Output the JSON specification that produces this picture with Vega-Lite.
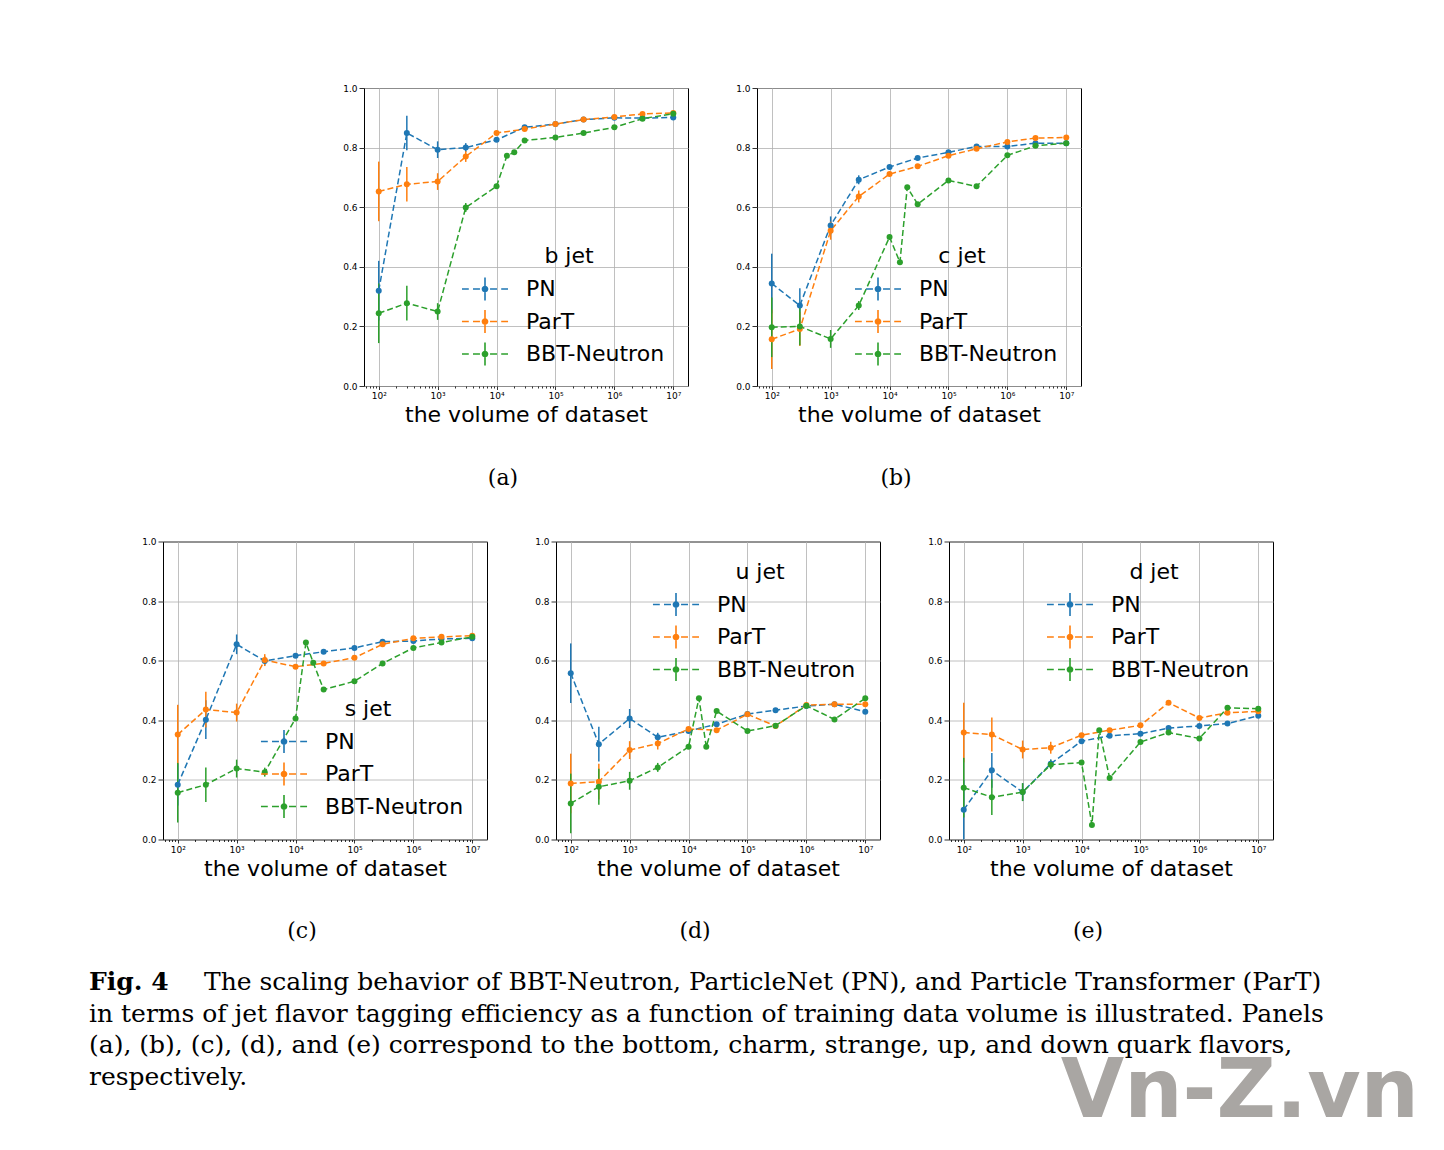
{
"$schema":"https://vega.github.io/schema/vega-lite/v6.json",
"padding":{"left":89,"top":83,"right":0,"bottom":0},
"background":"white",
"datasets":{"d":[
{"p":"a","m":"PN","x":100,"y":0.32,"e":0.1},{"p":"a","m":"PN","x":300,"y":0.849,"e":0.058},{"p":"a","m":"PN","x":1000,"y":0.793,"e":0.028},{"p":"a","m":"PN","x":3000,"y":0.8,"e":0.015},{"p":"a","m":"PN","x":10000,"y":0.826,"e":0.005},{"p":"a","m":"PN","x":30000,"y":0.868,"e":0},{"p":"a","m":"PN","x":100000,"y":0.879,"e":0},{"p":"a","m":"PN","x":300000,"y":0.894,"e":0},{"p":"a","m":"PN","x":1000000,"y":0.9,"e":0},{"p":"a","m":"PN","x":3000000,"y":0.899,"e":0},{"p":"a","m":"PN","x":10000000,"y":0.901,"e":0},
{"p":"a","m":"ParT","x":100,"y":0.653,"e":0.1},{"p":"a","m":"ParT","x":300,"y":0.677,"e":0.058},{"p":"a","m":"ParT","x":1000,"y":0.686,"e":0.028},{"p":"a","m":"ParT","x":3000,"y":0.77,"e":0.018},{"p":"a","m":"ParT","x":10000,"y":0.849,"e":0.005},{"p":"a","m":"ParT","x":30000,"y":0.862,"e":0},{"p":"a","m":"ParT","x":100000,"y":0.879,"e":0},{"p":"a","m":"ParT","x":300000,"y":0.894,"e":0},{"p":"a","m":"ParT","x":1000000,"y":0.903,"e":0},{"p":"a","m":"ParT","x":3000000,"y":0.913,"e":0},{"p":"a","m":"ParT","x":10000000,"y":0.916,"e":0},
{"p":"a","m":"BBT-Neutron","x":100,"y":0.244,"e":0.1},{"p":"a","m":"BBT-Neutron","x":300,"y":0.278,"e":0.058},{"p":"a","m":"BBT-Neutron","x":1000,"y":0.25,"e":0.028},{"p":"a","m":"BBT-Neutron","x":3000,"y":0.599,"e":0.015},{"p":"a","m":"BBT-Neutron","x":10000,"y":0.67,"e":0.008},{"p":"a","m":"BBT-Neutron","x":15000,"y":0.773,"e":0},{"p":"a","m":"BBT-Neutron","x":20000,"y":0.784,"e":0},{"p":"a","m":"BBT-Neutron","x":30000,"y":0.824,"e":0},{"p":"a","m":"BBT-Neutron","x":100000,"y":0.834,"e":0},{"p":"a","m":"BBT-Neutron","x":300000,"y":0.849,"e":0},{"p":"a","m":"BBT-Neutron","x":1000000,"y":0.868,"e":0},{"p":"a","m":"BBT-Neutron","x":3000000,"y":0.897,"e":0},{"p":"a","m":"BBT-Neutron","x":10000000,"y":0.914,"e":0},
{"p":"b","m":"PN","x":100,"y":0.344,"e":0.1},{"p":"b","m":"PN","x":300,"y":0.27,"e":0.058},{"p":"b","m":"PN","x":1000,"y":0.539,"e":0.03},{"p":"b","m":"PN","x":3000,"y":0.692,"e":0.015},{"p":"b","m":"PN","x":10000,"y":0.735,"e":0.005},{"p":"b","m":"PN","x":30000,"y":0.765,"e":0},{"p":"b","m":"PN","x":100000,"y":0.784,"e":0},{"p":"b","m":"PN","x":300000,"y":0.804,"e":0},{"p":"b","m":"PN","x":1000000,"y":0.804,"e":0},{"p":"b","m":"PN","x":3000000,"y":0.815,"e":0},{"p":"b","m":"PN","x":10000000,"y":0.815,"e":0},
{"p":"b","m":"ParT","x":100,"y":0.157,"e":0.1},{"p":"b","m":"ParT","x":300,"y":0.191,"e":0.057},{"p":"b","m":"ParT","x":1000,"y":0.521,"e":0.03},{"p":"b","m":"ParT","x":3000,"y":0.636,"e":0.02},{"p":"b","m":"ParT","x":10000,"y":0.711,"e":0.005},{"p":"b","m":"ParT","x":30000,"y":0.737,"e":0},{"p":"b","m":"ParT","x":100000,"y":0.773,"e":0},{"p":"b","m":"ParT","x":300000,"y":0.796,"e":0},{"p":"b","m":"ParT","x":1000000,"y":0.819,"e":0},{"p":"b","m":"ParT","x":3000000,"y":0.832,"e":0},{"p":"b","m":"ParT","x":10000000,"y":0.834,"e":0},
{"p":"b","m":"BBT-Neutron","x":100,"y":0.197,"e":0.1},{"p":"b","m":"BBT-Neutron","x":300,"y":0.2,"e":0.063},{"p":"b","m":"BBT-Neutron","x":1000,"y":0.158,"e":0.03},{"p":"b","m":"BBT-Neutron","x":3000,"y":0.27,"e":0.015},{"p":"b","m":"BBT-Neutron","x":10000,"y":0.5,"e":0.005},{"p":"b","m":"BBT-Neutron","x":15000,"y":0.415,"e":0},{"p":"b","m":"BBT-Neutron","x":20000,"y":0.667,"e":0},{"p":"b","m":"BBT-Neutron","x":30000,"y":0.61,"e":0},{"p":"b","m":"BBT-Neutron","x":100000,"y":0.69,"e":0},{"p":"b","m":"BBT-Neutron","x":300000,"y":0.67,"e":0},{"p":"b","m":"BBT-Neutron","x":1000000,"y":0.774,"e":0},{"p":"b","m":"BBT-Neutron","x":3000000,"y":0.806,"e":0},{"p":"b","m":"BBT-Neutron","x":10000000,"y":0.815,"e":0},
{"p":"c","m":"PN","x":100,"y":0.184,"e":0.07},{"p":"c","m":"PN","x":300,"y":0.402,"e":0.065},{"p":"c","m":"PN","x":1000,"y":0.655,"e":0.033},{"p":"c","m":"PN","x":3000,"y":0.599,"e":0.015},{"p":"c","m":"PN","x":10000,"y":0.617,"e":0.005},{"p":"c","m":"PN","x":30000,"y":0.63,"e":0},{"p":"c","m":"PN","x":100000,"y":0.643,"e":0},{"p":"c","m":"PN","x":300000,"y":0.664,"e":0},{"p":"c","m":"PN","x":1000000,"y":0.666,"e":0},{"p":"c","m":"PN","x":3000000,"y":0.673,"e":0},{"p":"c","m":"PN","x":10000000,"y":0.675,"e":0},
{"p":"c","m":"ParT","x":100,"y":0.352,"e":0.1},{"p":"c","m":"ParT","x":300,"y":0.436,"e":0.06},{"p":"c","m":"ParT","x":1000,"y":0.426,"e":0.03},{"p":"c","m":"ParT","x":3000,"y":0.602,"e":0.02},{"p":"c","m":"ParT","x":10000,"y":0.58,"e":0.005},{"p":"c","m":"ParT","x":30000,"y":0.591,"e":0},{"p":"c","m":"ParT","x":100000,"y":0.61,"e":0},{"p":"c","m":"ParT","x":300000,"y":0.655,"e":0},{"p":"c","m":"ParT","x":1000000,"y":0.675,"e":0},{"p":"c","m":"ParT","x":3000000,"y":0.68,"e":0},{"p":"c","m":"ParT","x":10000000,"y":0.684,"e":0},
{"p":"c","m":"BBT-Neutron","x":100,"y":0.157,"e":0.1},{"p":"c","m":"BBT-Neutron","x":300,"y":0.184,"e":0.058},{"p":"c","m":"BBT-Neutron","x":1000,"y":0.238,"e":0.03},{"p":"c","m":"BBT-Neutron","x":3000,"y":0.226,"e":0.015},{"p":"c","m":"BBT-Neutron","x":10000,"y":0.406,"e":0.005},{"p":"c","m":"BBT-Neutron","x":15000,"y":0.661,"e":0},{"p":"c","m":"BBT-Neutron","x":20000,"y":0.593,"e":0},{"p":"c","m":"BBT-Neutron","x":30000,"y":0.503,"e":0},{"p":"c","m":"BBT-Neutron","x":100000,"y":0.531,"e":0},{"p":"c","m":"BBT-Neutron","x":300000,"y":0.591,"e":0},{"p":"c","m":"BBT-Neutron","x":1000000,"y":0.643,"e":0},{"p":"c","m":"BBT-Neutron","x":3000000,"y":0.661,"e":0},{"p":"c","m":"BBT-Neutron","x":10000000,"y":0.68,"e":0},
{"p":"d","m":"PN","x":100,"y":0.558,"e":0.1},{"p":"d","m":"PN","x":300,"y":0.32,"e":0.058},{"p":"d","m":"PN","x":1000,"y":0.406,"e":0.032},{"p":"d","m":"PN","x":3000,"y":0.343,"e":0.015},{"p":"d","m":"PN","x":10000,"y":0.364,"e":0.005},{"p":"d","m":"PN","x":30000,"y":0.387,"e":0},{"p":"d","m":"PN","x":100000,"y":0.421,"e":0},{"p":"d","m":"PN","x":300000,"y":0.434,"e":0},{"p":"d","m":"PN","x":1000000,"y":0.448,"e":0},{"p":"d","m":"PN","x":3000000,"y":0.454,"e":0},{"p":"d","m":"PN","x":10000000,"y":0.429,"e":0},
{"p":"d","m":"ParT","x":100,"y":0.188,"e":0.1},{"p":"d","m":"ParT","x":300,"y":0.194,"e":0.06},{"p":"d","m":"ParT","x":1000,"y":0.3,"e":0.03},{"p":"d","m":"ParT","x":3000,"y":0.322,"e":0.02},{"p":"d","m":"ParT","x":10000,"y":0.371,"e":0.005},{"p":"d","m":"ParT","x":30000,"y":0.367,"e":0},{"p":"d","m":"ParT","x":100000,"y":0.42,"e":0},{"p":"d","m":"ParT","x":300000,"y":0.381,"e":0},{"p":"d","m":"ParT","x":1000000,"y":0.451,"e":0},{"p":"d","m":"ParT","x":3000000,"y":0.454,"e":0},{"p":"d","m":"ParT","x":10000000,"y":0.454,"e":0},
{"p":"d","m":"BBT-Neutron","x":100,"y":0.121,"e":0.1},{"p":"d","m":"BBT-Neutron","x":300,"y":0.177,"e":0.06},{"p":"d","m":"BBT-Neutron","x":1000,"y":0.197,"e":0.03},{"p":"d","m":"BBT-Neutron","x":3000,"y":0.242,"e":0.015},{"p":"d","m":"BBT-Neutron","x":10000,"y":0.311,"e":0.005},{"p":"d","m":"BBT-Neutron","x":15000,"y":0.474,"e":0},{"p":"d","m":"BBT-Neutron","x":20000,"y":0.311,"e":0},{"p":"d","m":"BBT-Neutron","x":30000,"y":0.431,"e":0},{"p":"d","m":"BBT-Neutron","x":100000,"y":0.364,"e":0},{"p":"d","m":"BBT-Neutron","x":300000,"y":0.382,"e":0},{"p":"d","m":"BBT-Neutron","x":1000000,"y":0.449,"e":0},{"p":"d","m":"BBT-Neutron","x":3000000,"y":0.403,"e":0},{"p":"d","m":"BBT-Neutron","x":10000000,"y":0.474,"e":0},
{"p":"e","m":"PN","x":100,"y":0.1,"e":0.1},{"p":"e","m":"PN","x":300,"y":0.232,"e":0.058},{"p":"e","m":"PN","x":1000,"y":0.159,"e":0.03},{"p":"e","m":"PN","x":3000,"y":0.254,"e":0.015},{"p":"e","m":"PN","x":10000,"y":0.33,"e":0.005},{"p":"e","m":"PN","x":30000,"y":0.348,"e":0},{"p":"e","m":"PN","x":100000,"y":0.355,"e":0},{"p":"e","m":"PN","x":300000,"y":0.374,"e":0},{"p":"e","m":"PN","x":1000000,"y":0.381,"e":0},{"p":"e","m":"PN","x":3000000,"y":0.389,"e":0},{"p":"e","m":"PN","x":10000000,"y":0.415,"e":0},
{"p":"e","m":"ParT","x":100,"y":0.359,"e":0.1},{"p":"e","m":"ParT","x":300,"y":0.352,"e":0.057},{"p":"e","m":"ParT","x":1000,"y":0.302,"e":0.03},{"p":"e","m":"ParT","x":3000,"y":0.308,"e":0.02},{"p":"e","m":"ParT","x":10000,"y":0.35,"e":0.005},{"p":"e","m":"ParT","x":30000,"y":0.367,"e":0},{"p":"e","m":"ParT","x":100000,"y":0.383,"e":0},{"p":"e","m":"ParT","x":300000,"y":0.459,"e":0},{"p":"e","m":"ParT","x":1000000,"y":0.408,"e":0},{"p":"e","m":"ParT","x":3000000,"y":0.425,"e":0},{"p":"e","m":"ParT","x":10000000,"y":0.43,"e":0},
{"p":"e","m":"BBT-Neutron","x":100,"y":0.174,"e":0.1},{"p":"e","m":"BBT-Neutron","x":300,"y":0.142,"e":0.06},{"p":"e","m":"BBT-Neutron","x":1000,"y":0.159,"e":0.03},{"p":"e","m":"BBT-Neutron","x":3000,"y":0.251,"e":0.015},{"p":"e","m":"BBT-Neutron","x":10000,"y":0.258,"e":0.005},{"p":"e","m":"BBT-Neutron","x":15000,"y":0.049,"e":0},{"p":"e","m":"BBT-Neutron","x":20000,"y":0.367,"e":0},{"p":"e","m":"BBT-Neutron","x":30000,"y":0.206,"e":0},{"p":"e","m":"BBT-Neutron","x":100000,"y":0.327,"e":0},{"p":"e","m":"BBT-Neutron","x":300000,"y":0.359,"e":0},{"p":"e","m":"BBT-Neutron","x":1000000,"y":0.339,"e":0},{"p":"e","m":"BBT-Neutron","x":3000000,"y":0.442,"e":0},{"p":"e","m":"BBT-Neutron","x":10000000,"y":0.439,"e":0}
]},
"vconcat":[
 {"vconcat":[
  {"hconcat":[
   {"width":132.5,"height":298,"view":{"stroke":null},"data":{"values":[]},"mark":"text","encoding":{}},
   {"width":324,"height":298,"data":{"name":"d"},"transform":[{"filter":"datum.p==='a'"}],"title":{"text":"(a)"},
    "encoding":{
     "x":{"field":"x","type":"quantitative","scale":{"type":"log","domain":[56.234,17782794],"nice":false},"axis":{"title":"the volume of dataset","values":[60,70,80,90,100,200,300,400,500,600,700,800,900,1000,2000,3000,4000,5000,6000,7000,8000,9000,10000,20000,30000,40000,50000,60000,70000,80000,90000,100000,200000,300000,400000,500000,600000,700000,800000,900000,1000000,2000000,3000000,4000000,5000000,6000000,7000000,8000000,9000000,10000000],"labelExpr":"abs(log(datum.value)/LN10-round(log(datum.value)/LN10))<0.001 ? '10'+['⁰','¹','²','³','⁴','⁵','⁶','⁷','⁸'][round(log(datum.value)/LN10)] : ''","tickSize":{"condition":{"test":"abs(log(datum.value)/LN10-round(log(datum.value)/LN10))<0.001","value":3.5},"value":2},"gridOpacity":{"condition":{"test":"abs(log(datum.value)/LN10-round(log(datum.value)/LN10))<0.001","value":1},"value":0}}},
     "y":{"field":"y","type":"quantitative","scale":{"domain":[0,1],"nice":false,"zero":false},"axis":{"title":null,"values":[0,0.2,0.4,0.6,0.8,1.0],"format":".1f"}}
    },
    "layer":[
     {"mark":{"type":"errorbar","thickness":1.5},"encoding":{"yError":{"field":"e"},"stroke":{"field":"m","type":"nominal","scale":{"domain":["PN","ParT","BBT-Neutron"],"range":["#1f77b4","#ff7f0e","#2ca02c"]},"legend":null}}},
     {"mark":{"type":"line","strokeDash":[6,3],"strokeWidth":1.5},"encoding":{"stroke":{"field":"m","type":"nominal","scale":{"domain":["PN","ParT","BBT-Neutron"],"range":["#1f77b4","#ff7f0e","#2ca02c"]},"legend":null}}},
     {"mark":{"type":"point","filled":true,"size":36,"opacity":1},"encoding":{"color":{"field":"m","type":"nominal","scale":{"domain":["PN","ParT","BBT-Neutron"],"range":["#1f77b4","#ff7f0e","#2ca02c"]},"legend":{"title":"b jet","orient":"none","legendX":109,"legendY":158}}}}
    ]},
   {"width":324,"height":298,"data":{"name":"d"},"transform":[{"filter":"datum.p==='b'"}],"title":{"text":"(b)"},
    "encoding":{
     "x":{"field":"x","type":"quantitative","scale":{"type":"log","domain":[56.234,17782794],"nice":false},"axis":{"title":"the volume of dataset","values":[60,70,80,90,100,200,300,400,500,600,700,800,900,1000,2000,3000,4000,5000,6000,7000,8000,9000,10000,20000,30000,40000,50000,60000,70000,80000,90000,100000,200000,300000,400000,500000,600000,700000,800000,900000,1000000,2000000,3000000,4000000,5000000,6000000,7000000,8000000,9000000,10000000],"labelExpr":"abs(log(datum.value)/LN10-round(log(datum.value)/LN10))<0.001 ? '10'+['⁰','¹','²','³','⁴','⁵','⁶','⁷','⁸'][round(log(datum.value)/LN10)] : ''","tickSize":{"condition":{"test":"abs(log(datum.value)/LN10-round(log(datum.value)/LN10))<0.001","value":3.5},"value":2},"gridOpacity":{"condition":{"test":"abs(log(datum.value)/LN10-round(log(datum.value)/LN10))<0.001","value":1},"value":0}}},
     "y":{"field":"y","type":"quantitative","scale":{"domain":[0,1],"nice":false,"zero":false},"axis":{"title":null,"values":[0,0.2,0.4,0.6,0.8,1.0],"format":".1f"}}
    },
    "layer":[
     {"mark":{"type":"errorbar","thickness":1.5},"encoding":{"yError":{"field":"e"},"stroke":{"field":"m","type":"nominal","scale":{"domain":["PN","ParT","BBT-Neutron"],"range":["#1f77b4","#ff7f0e","#2ca02c"]},"legend":null}}},
     {"mark":{"type":"line","strokeDash":[6,3],"strokeWidth":1.5},"encoding":{"stroke":{"field":"m","type":"nominal","scale":{"domain":["PN","ParT","BBT-Neutron"],"range":["#1f77b4","#ff7f0e","#2ca02c"]},"legend":null}}},
     {"mark":{"type":"point","filled":true,"size":36,"opacity":1},"encoding":{"color":{"field":"m","type":"nominal","scale":{"domain":["PN","ParT","BBT-Neutron"],"range":["#1f77b4","#ff7f0e","#2ca02c"]},"legend":{"title":"c jet","orient":"none","legendX":109,"legendY":158}}}}
    ]}
  ],"spacing":46,"resolve":{"scale":{"color":"independent"},"legend":{"color":"independent"}}},
  {"hconcat":[
   {"width":324,"height":298,"data":{"name":"d"},"transform":[{"filter":"datum.p==='c'"}],"title":{"text":"(c)"},
    "encoding":{
     "x":{"field":"x","type":"quantitative","scale":{"type":"log","domain":[56.234,17782794],"nice":false},"axis":{"title":"the volume of dataset","values":[60,70,80,90,100,200,300,400,500,600,700,800,900,1000,2000,3000,4000,5000,6000,7000,8000,9000,10000,20000,30000,40000,50000,60000,70000,80000,90000,100000,200000,300000,400000,500000,600000,700000,800000,900000,1000000,2000000,3000000,4000000,5000000,6000000,7000000,8000000,9000000,10000000],"labelExpr":"abs(log(datum.value)/LN10-round(log(datum.value)/LN10))<0.001 ? '10'+['⁰','¹','²','³','⁴','⁵','⁶','⁷','⁸'][round(log(datum.value)/LN10)] : ''","tickSize":{"condition":{"test":"abs(log(datum.value)/LN10-round(log(datum.value)/LN10))<0.001","value":3.5},"value":2},"gridOpacity":{"condition":{"test":"abs(log(datum.value)/LN10-round(log(datum.value)/LN10))<0.001","value":1},"value":0}}},
     "y":{"field":"y","type":"quantitative","scale":{"domain":[0,1],"nice":false,"zero":false},"axis":{"title":null,"values":[0,0.2,0.4,0.6,0.8,1.0],"format":".1f"}}
    },
    "layer":[
     {"mark":{"type":"errorbar","thickness":1.5},"encoding":{"yError":{"field":"e"},"stroke":{"field":"m","type":"nominal","scale":{"domain":["PN","ParT","BBT-Neutron"],"range":["#1f77b4","#ff7f0e","#2ca02c"]},"legend":null}}},
     {"mark":{"type":"line","strokeDash":[6,3],"strokeWidth":1.5},"encoding":{"stroke":{"field":"m","type":"nominal","scale":{"domain":["PN","ParT","BBT-Neutron"],"range":["#1f77b4","#ff7f0e","#2ca02c"]},"legend":null}}},
     {"mark":{"type":"point","filled":true,"size":36,"opacity":1},"encoding":{"color":{"field":"m","type":"nominal","scale":{"domain":["PN","ParT","BBT-Neutron"],"range":["#1f77b4","#ff7f0e","#2ca02c"]},"legend":{"title":"s jet","orient":"none","legendX":109,"legendY":157}}}}
    ]},
   {"width":324,"height":298,"data":{"name":"d"},"transform":[{"filter":"datum.p==='d'"}],"title":{"text":"(d)"},
    "encoding":{
     "x":{"field":"x","type":"quantitative","scale":{"type":"log","domain":[56.234,17782794],"nice":false},"axis":{"title":"the volume of dataset","values":[60,70,80,90,100,200,300,400,500,600,700,800,900,1000,2000,3000,4000,5000,6000,7000,8000,9000,10000,20000,30000,40000,50000,60000,70000,80000,90000,100000,200000,300000,400000,500000,600000,700000,800000,900000,1000000,2000000,3000000,4000000,5000000,6000000,7000000,8000000,9000000,10000000],"labelExpr":"abs(log(datum.value)/LN10-round(log(datum.value)/LN10))<0.001 ? '10'+['⁰','¹','²','³','⁴','⁵','⁶','⁷','⁸'][round(log(datum.value)/LN10)] : ''","tickSize":{"condition":{"test":"abs(log(datum.value)/LN10-round(log(datum.value)/LN10))<0.001","value":3.5},"value":2},"gridOpacity":{"condition":{"test":"abs(log(datum.value)/LN10-round(log(datum.value)/LN10))<0.001","value":1},"value":0}}},
     "y":{"field":"y","type":"quantitative","scale":{"domain":[0,1],"nice":false,"zero":false},"axis":{"title":null,"values":[0,0.2,0.4,0.6,0.8,1.0],"format":".1f"}}
    },
    "layer":[
     {"mark":{"type":"errorbar","thickness":1.5},"encoding":{"yError":{"field":"e"},"stroke":{"field":"m","type":"nominal","scale":{"domain":["PN","ParT","BBT-Neutron"],"range":["#1f77b4","#ff7f0e","#2ca02c"]},"legend":null}}},
     {"mark":{"type":"line","strokeDash":[6,3],"strokeWidth":1.5},"encoding":{"stroke":{"field":"m","type":"nominal","scale":{"domain":["PN","ParT","BBT-Neutron"],"range":["#1f77b4","#ff7f0e","#2ca02c"]},"legend":null}}},
     {"mark":{"type":"point","filled":true,"size":36,"opacity":1},"encoding":{"color":{"field":"m","type":"nominal","scale":{"domain":["PN","ParT","BBT-Neutron"],"range":["#1f77b4","#ff7f0e","#2ca02c"]},"legend":{"title":"u jet","orient":"none","legendX":108,"legendY":20}}}}
    ]},
   {"width":324,"height":298,"data":{"name":"d"},"transform":[{"filter":"datum.p==='e'"}],"title":{"text":"(e)"},
    "encoding":{
     "x":{"field":"x","type":"quantitative","scale":{"type":"log","domain":[56.234,17782794],"nice":false},"axis":{"title":"the volume of dataset","values":[60,70,80,90,100,200,300,400,500,600,700,800,900,1000,2000,3000,4000,5000,6000,7000,8000,9000,10000,20000,30000,40000,50000,60000,70000,80000,90000,100000,200000,300000,400000,500000,600000,700000,800000,900000,1000000,2000000,3000000,4000000,5000000,6000000,7000000,8000000,9000000,10000000],"labelExpr":"abs(log(datum.value)/LN10-round(log(datum.value)/LN10))<0.001 ? '10'+['⁰','¹','²','³','⁴','⁵','⁶','⁷','⁸'][round(log(datum.value)/LN10)] : ''","tickSize":{"condition":{"test":"abs(log(datum.value)/LN10-round(log(datum.value)/LN10))<0.001","value":3.5},"value":2},"gridOpacity":{"condition":{"test":"abs(log(datum.value)/LN10-round(log(datum.value)/LN10))<0.001","value":1},"value":0}}},
     "y":{"field":"y","type":"quantitative","scale":{"domain":[0,1],"nice":false,"zero":false},"axis":{"title":null,"values":[0,0.2,0.4,0.6,0.8,1.0],"format":".1f"}}
    },
    "layer":[
     {"mark":{"type":"errorbar","thickness":1.5},"encoding":{"yError":{"field":"e"},"stroke":{"field":"m","type":"nominal","scale":{"domain":["PN","ParT","BBT-Neutron"],"range":["#1f77b4","#ff7f0e","#2ca02c"]},"legend":null}}},
     {"mark":{"type":"line","strokeDash":[6,3],"strokeWidth":1.5},"encoding":{"stroke":{"field":"m","type":"nominal","scale":{"domain":["PN","ParT","BBT-Neutron"],"range":["#1f77b4","#ff7f0e","#2ca02c"]},"legend":null}}},
     {"mark":{"type":"point","filled":true,"size":36,"opacity":1},"encoding":{"color":{"field":"m","type":"nominal","scale":{"domain":["PN","ParT","BBT-Neutron"],"range":["#1f77b4","#ff7f0e","#2ca02c"]},"legend":{"title":"d jet","orient":"none","legendX":109,"legendY":20}}}}
    ]}
  ],"spacing":46,"resolve":{"scale":{"color":"independent"},"legend":{"color":"independent"}}}
 ],"spacing":47.5,"resolve":{"scale":{"color":"independent"},"legend":{"color":"independent"}}},
 {"width":1110,"height":100,
  "data":{"values":[
   {"ln":0,"i":0,"b":1,"t":"Fig. 4"},
   {"ln":0,"i":1,"b":0,"t":"The scaling behavior of BBT-Neutron, ParticleNet (PN), and Particle Transformer (ParT)"},
   {"ln":1,"i":0,"b":0,"t":"in terms of jet flavor tagging efficiency as a function of training data volume is illustrated. Panels"},
   {"ln":2,"i":0,"b":0,"t":"(a), (b), (c), (d), and (e) correspond to the bottom, charm, strange, up, and down quark flavors,"},
   {"ln":3,"i":0,"b":0,"t":"respectively."}
  ]},
  "view":{"stroke":null},
  "title":{"text":"Vn-Z.vn","orient":"bottom","anchor":"end","frame":"group","dx":146,"offset":-38,"font":"DejaVu Sans","fontSize":82,"fontWeight":"bold","color":"#a9a6a3"},
  "encoding":{
   "x":{"field":"i","type":"quantitative","scale":{"domain":[0,1],"range":[-74,41]},"axis":null},
   "y":{"field":"ln","type":"quantitative","scale":{"domain":[0,3],"range":[0,95]},"axis":null},
   "text":{"field":"t"}
  },
  "layer":[
   {"transform":[{"filter":"datum.b==1"}],"mark":{"type":"text","align":"left","baseline":"alphabetic","font":"DejaVu Serif","fontSize":25,"fontWeight":"bold","color":"#000"}},
   {"transform":[{"filter":"datum.b==0"}],"mark":{"type":"text","align":"left","baseline":"alphabetic","font":"DejaVu Serif","fontSize":25,"color":"#000"}}
  ]}
],
"spacing":27,
"resolve":{"scale":{"color":"independent"},"legend":{"color":"independent"}},
"config":{
 "font":"DejaVu Sans",
 "view":{"stroke":"#000","strokeWidth":1},
 "axis":{"domain":false,"tickColor":"#000","tickWidth":0.8,"labelColor":"#000","labelFont":"DejaVu Sans","labelFontSize":9,"labelPadding":2,"labelFlush":false,"labelOverlap":false,"gridColor":"#b0b0b0","gridWidth":0.8,"titleFont":"DejaVu Sans","titleFontSize":22,"titleFontWeight":"normal","titleColor":"#000","titlePadding":4},
 "legend":{"titleFontSize":22,"titleFont":"DejaVu Sans","titleFontWeight":"normal","titleColor":"#000","titleAnchor":"middle","titlePadding":9,"labelFontSize":22,"labelFont":"DejaVu Sans","labelColor":"#000","symbolType":"M-1.92,-0.067H-1.35V0.067H-1.92Z M-1,-0.067H-0.42V0.067H-1Z M0.42,-0.067H1V0.067H0.42Z M1.35,-0.067H1.92V0.067H1.35Z M-0.067,-0.96H0.067V0.96H-0.067Z M0.28,0A0.28,0.28 0 1,1 -0.28,0A0.28,0.28 0 1,1 0.28,0Z","symbolSize":576,"symbolStrokeWidth":0,"symbolOpacity":1,"labelOffset":29,"rowPadding":8.5,"padding":0},
 "title":{"orient":"bottom","anchor":"middle","frame":"group","dx":-23,"offset":42,"font":"DejaVu Serif","fontSize":22,"fontWeight":"normal","color":"#000"}
}
}
